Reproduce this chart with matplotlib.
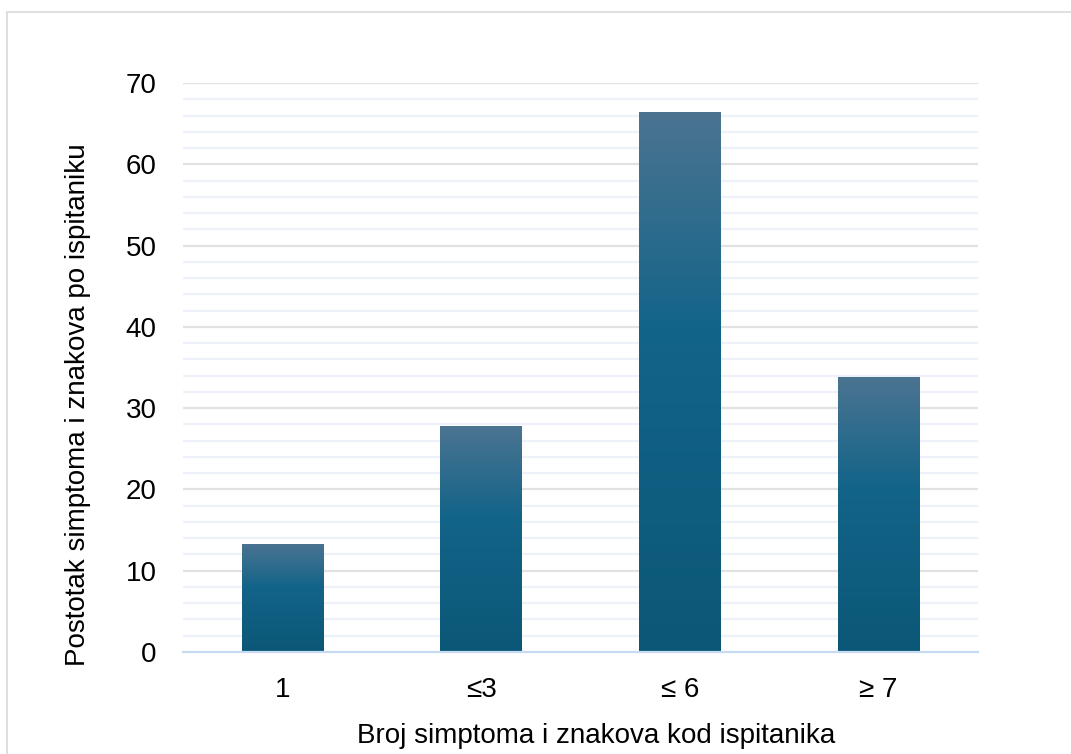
import numpy as np
import matplotlib.pyplot as plt
from matplotlib.colors import LinearSegmentedColormap
from matplotlib.patches import Rectangle

plt.rcParams['font.family'] = ['Liberation Sans', 'DejaVu Sans']

categories = ['1', '\u22643', '\u2264 6', '\u2265 7']
values = [13.3, 27.8, 66.4, 33.8]

fig = plt.figure(figsize=(10.71, 7.54), dpi=100)
# light frame around the chart area (as in the exported office chart)
fig.patches.append(Rectangle((7 / 1071, -0.01), 1.1, 1 - 12 / 754 + 0.01,
                             transform=fig.transFigure, fill=False,
                             edgecolor='#d9d9d9', linewidth=1.2))

ax = fig.add_axes([183 / 1071, 1 - 652 / 754, 795 / 1071, 569 / 754])
x = np.arange(len(categories))

# gridlines: minor every 2, major every 10
for y in np.arange(2, 70, 2):
    if y % 10:
        ax.axhline(y, color='#edf2fa', lw=1.6, zorder=0)
for y in range(10, 71, 10):
    ax.axhline(y, color='#e2e2e2', lw=1.6, zorder=0)

bars = ax.bar(x, values, width=0.41, facecolor='none', edgecolor='none', zorder=2)

cmap = LinearSegmentedColormap.from_list(
    'bar', [(0.0, '#0b5777'), (0.6, '#136489'), (1.0, '#4b7491')])
grad = np.linspace(0, 1, 256).reshape(-1, 1)
for b in bars:
    x0, w, h = b.get_x(), b.get_width(), b.get_height()
    im = ax.imshow(grad, cmap=cmap, origin='lower', aspect='auto',
                   extent=(x0, x0 + w, 0, h), zorder=2, interpolation='bicubic')
    im.set_clip_path(b)
ax.set_xlim(-0.5, len(categories) - 0.5)
ax.set_ylim(0, 70)

for s in ['top', 'right', 'left']:
    ax.spines[s].set_visible(False)
ax.spines['bottom'].set_color('#c6daf1')
ax.spines['bottom'].set_linewidth(1.6)
ax.spines['bottom'].set_zorder(3)

ax.set_xticks(x)
ax.set_xticklabels(categories)
ax.set_yticks(range(0, 71, 10))
ax.tick_params(axis='both', length=0, labelsize=20, colors='black')
ax.tick_params(axis='y', pad=19)
ax.tick_params(axis='x', pad=18)

ax.set_xlabel('Broj simptoma i znakova kod ispitanika', fontsize=20)
ax.xaxis.set_label_coords(0.52, -0.125)
ax.set_ylabel('Postotak simptoma i znakova po ispitaniku', fontsize=20)
ax.yaxis.set_label_coords(-0.116, (652 - 405) / 569)

fig.savefig('out.png', dpi=100)
